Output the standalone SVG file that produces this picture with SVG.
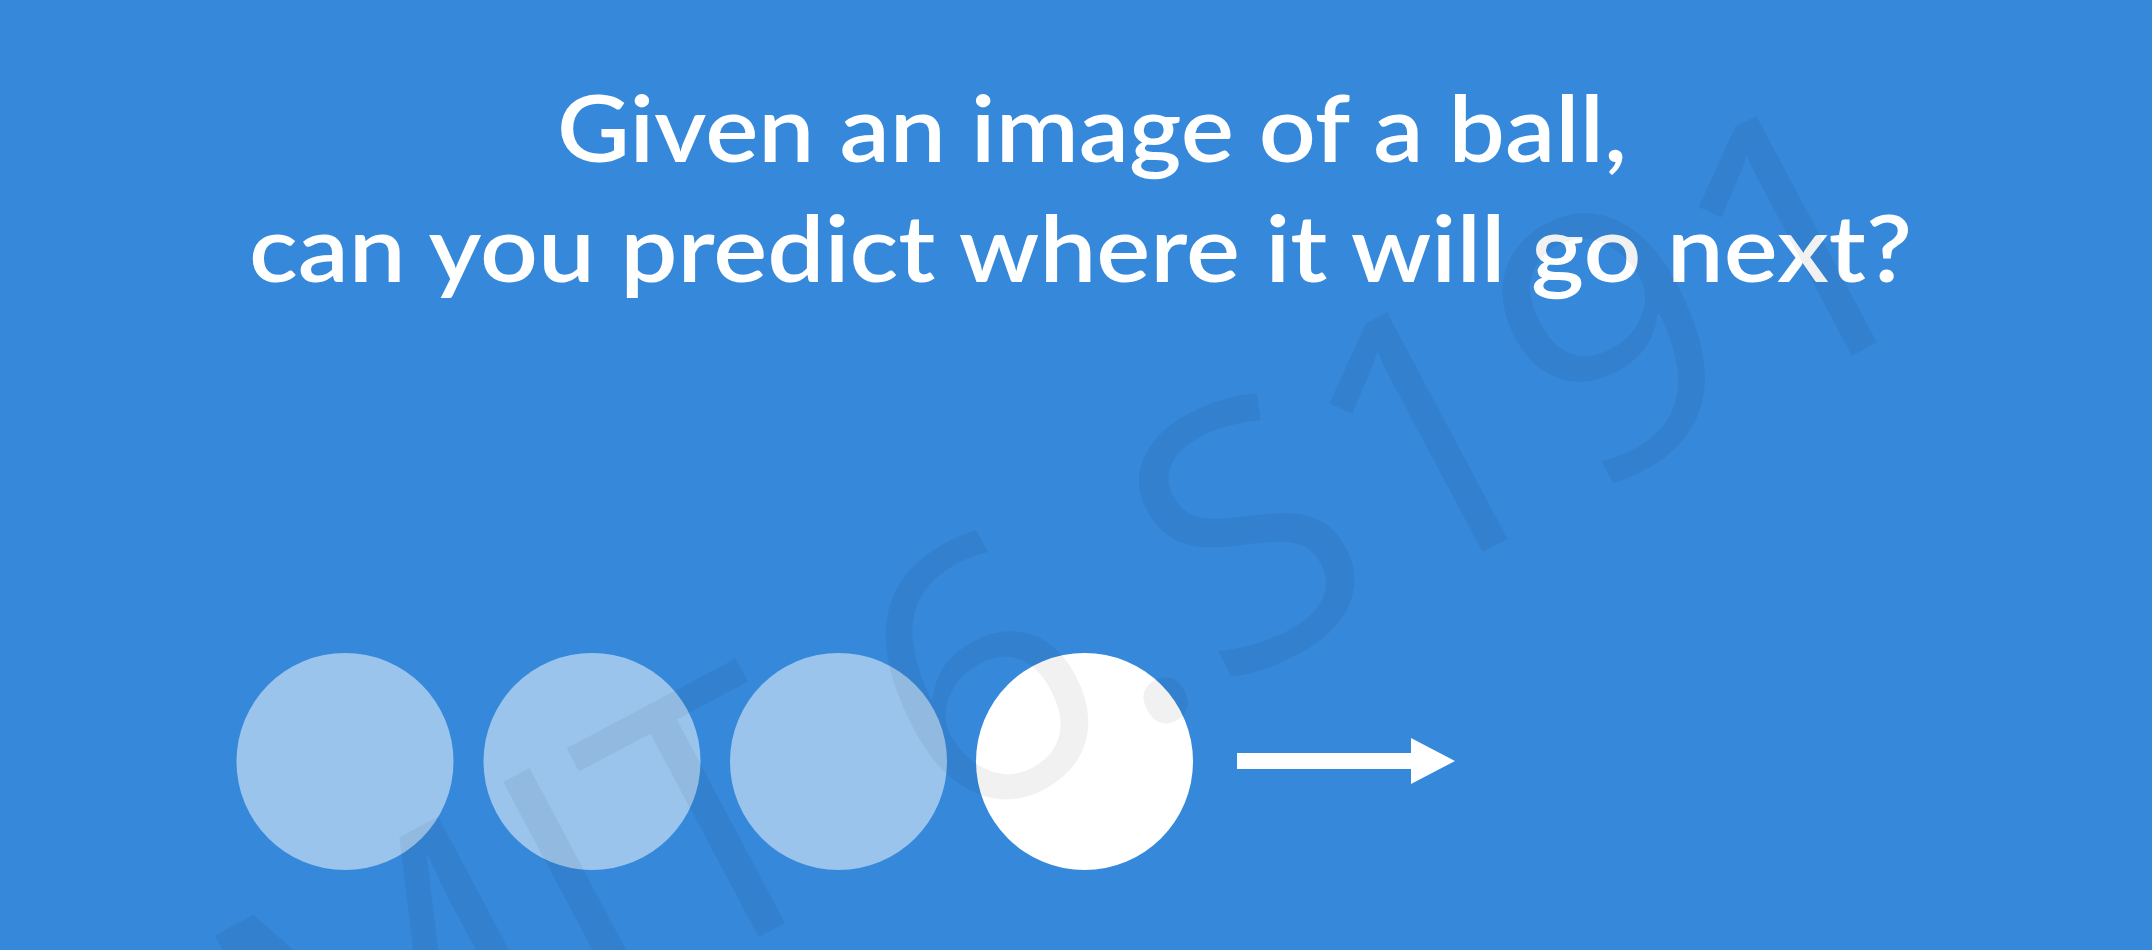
<svg xmlns="http://www.w3.org/2000/svg" width="2152" height="950" viewBox="0 0 2152 950">
  <defs>
    <style>
      .title { font-family: "Lato", "Open Sans", "Liberation Sans", sans-serif; font-size: 92px; font-weight: 600; fill: #ffffff; }
      .ball { fill: #ffffff; }
      .ball.past { fill-opacity: 0.5; }
      .watermark { font-family: "Open Sans", "Noto Sans", sans-serif; font-size: 360px; font-weight: 400; fill: #000000; fill-opacity: 0.055; }
      .arrow { stroke: #ffffff; stroke-width: 16; fill: none; }
    </style>
    <marker id="arrowhead" markerUnits="userSpaceOnUse" markerWidth="44" markerHeight="46" refX="0" refY="23" orient="auto" overflow="visible">
      <path d="M0,0 L44,23 L0,46 Z" fill="#ffffff"/>
    </marker>
  </defs>

  <rect id="background" x="0" y="0" width="2152" height="950" fill="#3689DA"/>

  <g id="title">
    <text class="title" x="557" y="162" textLength="1070" lengthAdjust="spacingAndGlyphs">Given an image of a ball,</text>
    <text class="title" x="249" y="282" textLength="1663" lengthAdjust="spacingAndGlyphs">can you predict where it will go next?</text>
  </g>

  <g id="ball-1"><circle class="ball past" cx="345" cy="761.5" r="108.5"/></g>
  <g id="ball-2"><circle class="ball past" cx="592" cy="761.5" r="108.5"/></g>
  <g id="ball-3"><circle class="ball past" cx="838.5" cy="761.5" r="108.5"/></g>
  <g id="ball-4"><circle class="ball" cx="1084.5" cy="761.5" r="108.5"/></g>

  <g id="connectors">
    <line class="arrow" x1="1237" y1="761" x2="1411" y2="761" marker-end="url(#arrowhead)"/>
  </g>

  <g id="watermark">
    <text class="watermark" transform="translate(304,1179) rotate(-28)" textLength="1861" lengthAdjust="spacing">MIT 6.S191</text>
  </g>
</svg>
